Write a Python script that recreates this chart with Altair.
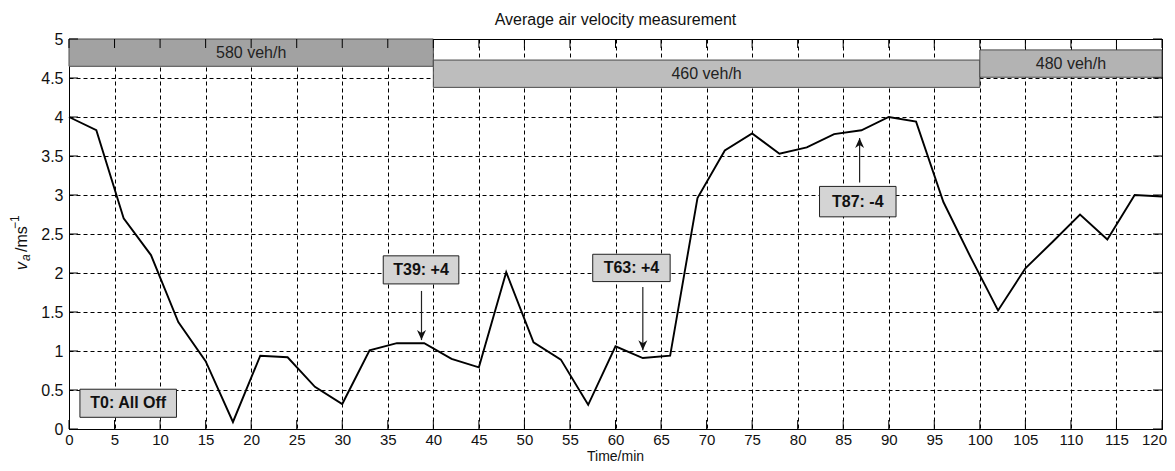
import altair as alt
import pandas as pd

# ---------------- data ----------------
TIME = [0, 3, 6, 9, 12, 15, 18, 21, 24, 27, 30, 33, 36, 39, 42, 45, 48, 51, 54, 57,
        60, 63, 66, 69, 72, 75, 78, 81, 84, 87, 90, 93, 96, 99, 102, 105, 108, 111,
        114, 117, 120]
VELOCITY = [4.00, 3.83, 2.70, 2.23, 1.37, 0.87, 0.09, 0.94, 0.92, 0.54, 0.32, 1.01,
            1.10, 1.10, 0.90, 0.79, 2.01, 1.11, 0.89, 0.31, 1.06, 0.91, 0.94, 2.96,
            3.57, 3.79, 3.53, 3.61, 3.78, 3.83, 4.00, 3.94, 2.91, 2.20, 1.52, 2.06,
            2.40, 2.75, 2.43, 3.00, 2.98]

X_TICKS = list(range(0, 121, 5))
Y_TICKS = [0, 0.5, 1, 1.5, 2, 2.5, 3, 3.5, 4, 4.5, 5]

BAND_LABEL = ["580 veh/h", "460 veh/h", "480 veh/h"]
BAND_START = [0, 40, 100]
BAND_END = [40, 100, 120]
BAND_TOP = [5.0, 4.73, 4.86]
BAND_BOTTOM = [4.65, 4.38, 4.51]

NOTE_LABEL = ["T0: All Off", "T39: +4", "T63: +4", "T87: -4"]
NOTE_X1 = [1.2, 34.5, 57.5, 82.4]
NOTE_X2 = [11.8, 42.8, 66.0, 90.8]
NOTE_Y1 = [0.15, 1.86, 1.89, 2.72]
NOTE_Y2 = [0.51, 2.22, 2.24, 3.11]

ARROW_X = [38.7, 63.0, 86.8]
ARROW_TAIL = [1.77, 1.82, 3.16]
ARROW_TIP = [1.14, 1.01, 3.73]
ARROW_DIR = ["down", "down", "up"]

TITLE = "Average air velocity measurement"
X_TITLE = "Time/min"

# ---------------- styling ----------------
W, H = 1093, 390
FONT = "Liberation Sans Narrow, Liberation Sans, Arial, sans-serif"
FS = 16

XS = alt.Scale(domain=[0, 120], nice=False, zero=False)
YS = alt.Scale(domain=[0, 5], nice=False, zero=False)
XAX = alt.Axis(values=X_TICKS, title=None, grid=True, ticks=False, labelPadding=3,
               labelFlush=False, labelOverlap=False,
               labelOffset={"condition": {"test": "datum.value >= 120", "value": -8},
                            "value": 0},
               labelFont=FONT, labelFontSize=15, labelColor="#111")
YAX = alt.Axis(values=Y_TICKS, title=None, grid=True, ticks=False, labelPadding=6,
               labelFlush=False, labelOverlap=False,
               labelFont=FONT, labelFontSize=FS, labelColor="#111", format="~g")


def xq(f):
    return alt.X(f, type="quantitative", scale=XS, axis=XAX)


def yq(f):
    return alt.Y(f, type="quantitative", scale=YS, axis=YAX)


series = pd.DataFrame({"t": TIME, "v": VELOCITY})
bands = pd.DataFrame({"label": BAND_LABEL, "x1": BAND_START, "x2": BAND_END,
                      "y1": BAND_BOTTOM, "y2": BAND_TOP})
bands["xm"] = (bands["x1"] + bands["x2"]) / 2
bands["ym"] = (bands["y1"] + bands["y2"]) / 2
notes = pd.DataFrame({"label": NOTE_LABEL, "x1": NOTE_X1, "x2": NOTE_X2,
                      "y1": NOTE_Y1, "y2": NOTE_Y2})
notes["xm"] = (notes["x1"] + notes["x2"]) / 2
notes["ym"] = (notes["y1"] + notes["y2"]) / 2
arrows = pd.DataFrame({"x": ARROW_X, "tail": ARROW_TAIL, "tip": ARROW_TIP, "dir": ARROW_DIR})
xt = pd.DataFrame({"v": X_TICKS})
yt = pd.DataFrame({"v": Y_TICKS})

line = alt.Chart(series).mark_line(color="black", strokeWidth=1.9).encode(
    x=xq("t"), y=yq("v"))

band_rect = alt.Chart(bands).mark_rect(stroke="#4a4a4a", strokeWidth=1).encode(
    x=xq("x1"), x2="x2", y=yq("y1"), y2="y2",
    fill=alt.Fill("label:N", scale=alt.Scale(domain=BAND_LABEL,
                                             range=["#a2a2a2", "#bdbdbd", "#b3b3b3"]),
                  legend=None))
band_text = alt.Chart(bands).mark_text(font=FONT, fontSize=FS, color="#222",
                                       baseline="middle", align="center").encode(
    x=xq("xm"), y=yq("ym"), text="label:N")

note_rect = alt.Chart(notes).mark_rect(fill="#d4d4d4", stroke="#222", strokeWidth=1).encode(
    x=xq("x1"), x2="x2", y=yq("y1"), y2="y2")
note_text = alt.Chart(notes).mark_text(font=FONT, fontSize=FS, fontWeight="bold",
                                       color="#111", baseline="middle",
                                       align="center").encode(
    x=xq("xm"), y=yq("ym"), text="label:N")

arrow_rule = alt.Chart(arrows).mark_rule(color="#222", strokeWidth=1.2).encode(
    x=xq("x"), y=yq("tail"), y2="tip")
HEAD_DOWN = "M0,0 L-0.45,-1 L0,-0.7 L0.45,-1 Z"
HEAD_UP = "M0,0 L-0.45,1 L0,0.7 L0.45,1 Z"
arrow_head = alt.Chart(arrows).mark_point(filled=True, color="#111", opacity=1,
                                          size=400).encode(
    x=xq("x"), y=yq("tip"),
    shape=alt.Shape("dir:N", scale=alt.Scale(domain=["down", "up"],
                                             range=[HEAD_DOWN, HEAD_UP]),
                    legend=None))

tick_b = alt.Chart(xt).mark_rule(color="black", strokeWidth=1).encode(
    x=xq("v"), y=alt.value(H), y2=alt.value(H - 9))
tick_t = alt.Chart(xt).mark_rule(color="black", strokeWidth=1).encode(
    x=xq("v"), y=alt.value(0), y2=alt.value(9))
tick_l = alt.Chart(yt).mark_rule(color="black", strokeWidth=1).encode(
    y=yq("v"), x=alt.value(0), x2=alt.value(9))
tick_r = alt.Chart(yt).mark_rule(color="black", strokeWidth=1).encode(
    y=yq("v"), x=alt.value(W), x2=alt.value(W - 9))

one = pd.DataFrame({"k": [0]})
title_mark = alt.Chart(one).mark_text(text=TITLE, font=FONT, fontSize=FS, color="#111",
                                      align="center", baseline="middle").encode(
    x=alt.value(W / 2), y=alt.value(-19))
xtitle_mark = alt.Chart(one).mark_text(text=X_TITLE, font=FONT, fontSize=14, color="#111",
                                       align="center", baseline="alphabetic").encode(
    x=alt.value(W / 2), y=alt.value(421.5))


def ypiece(txt, ypos, xbase, size, style="normal"):
    return alt.Chart(one).mark_text(text=txt, font=FONT, fontSize=size, fontStyle=style,
                                    color="#111", angle=270, align="left",
                                    baseline="alphabetic").encode(
        x=alt.value(xbase), y=alt.value(ypos))


ytitle = [
    ypiece("v", 231, -42, FS, "italic"),
    ypiece("a", 222, -39, 12, "italic"),
    ypiece("/ms", 213, -42, FS),
    ypiece("\u22121", 190, -50, 12),
]

chart = alt.layer(
    line, band_rect, band_text, note_rect, note_text, arrow_rule, arrow_head,
    tick_b, tick_t, tick_l, tick_r, title_mark, xtitle_mark, *ytitle
).properties(
    width=W, height=H,
    autosize=alt.AutoSizeParams(type="none"),
    padding={"left": 61, "top": 31, "right": 5, "bottom": 34},
    background="white",
).configure_view(
    stroke="black", strokeWidth=1
).configure_axis(
    domainColor="black", domainWidth=1, gridColor="black", gridDash=[4, 3],
    gridOpacity=1, gridWidth=1
)

chart.save("out.html", embed_options={"renderer": "svg", "actions": False})
